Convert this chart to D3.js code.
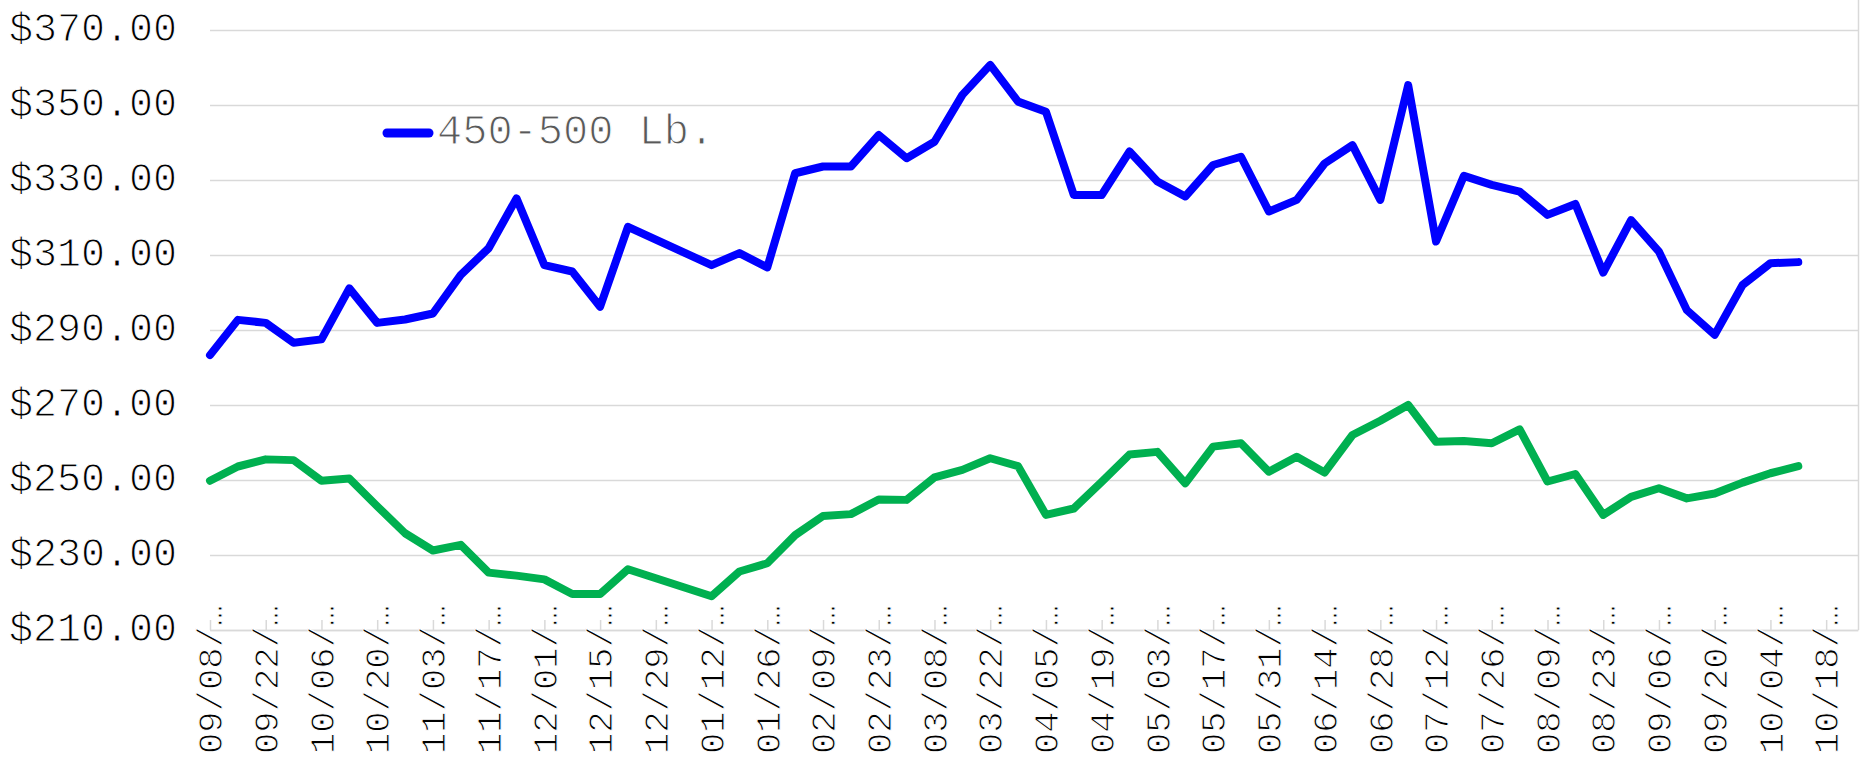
<!DOCTYPE html>
<html>
<head>
<meta charset="utf-8">
<script src="https://cdn.jsdelivr.net/npm/d3@7"></script>
<style>
  html, body { margin: 0; padding: 0; background: #ffffff; }
  svg { display: block; }
</style>
</head>
<body>
<svg id="chart" width="1860" height="768"></svg>
<script>
// ---------------- DATA ----------------
const weekDates = [
  "2019-09-08","2019-09-15","2019-09-22","2019-09-29","2019-10-06","2019-10-13","2019-10-20","2019-10-27",
  "2019-11-03","2019-11-10","2019-11-17","2019-11-24","2019-12-01","2019-12-08","2019-12-15","2019-12-22",
  "2020-01-12","2020-01-19","2020-01-26","2020-02-02","2020-02-09","2020-02-16","2020-02-23","2020-03-01",
  "2020-03-08","2020-03-15","2020-03-22","2020-03-29","2020-04-05","2020-04-12","2020-04-19","2020-04-26",
  "2020-05-03","2020-05-10","2020-05-17","2020-05-24","2020-05-31","2020-06-07","2020-06-14","2020-06-21",
  "2020-06-28","2020-07-05","2020-07-12","2020-07-19","2020-07-26","2020-08-02","2020-08-09","2020-08-16",
  "2020-08-23","2020-08-30","2020-09-06","2020-09-13","2020-09-20","2020-09-27","2020-10-04","2020-10-11"
];

const blueValues = [
  283.3, 292.7, 291.9, 286.6, 287.5, 301.1, 291.9, 292.8,
  294.4, 304.7, 311.8, 325.1, 307.3, 305.6, 296.2, 317.5,
  307.3, 310.5, 306.7, 331.8, 333.6, 333.6, 342.0, 335.8,
  340.2, 352.7, 360.7, 350.9, 348.2, 326.0, 326.0, 337.6,
  329.6, 325.6, 334.0, 336.2, 321.6, 324.7, 334.4, 339.3,
  324.7, 355.3, 313.6, 331.1, 328.7, 326.9, 320.7, 323.6,
  305.3, 319.3, 310.9, 295.3, 288.7, 302.0, 307.8, 308.1
];

const greenValues = [
  249.8, 253.6, 255.5, 255.3, 249.8, 250.4, 243.0, 235.8,
  231.2, 232.7, 225.3, 224.5, 223.5, 219.6, 219.6, 226.2,
  219.0, 225.6, 227.8, 235.3, 240.4, 240.9, 244.8, 244.7,
  250.7, 252.7, 255.8, 253.7, 240.7, 242.4, 249.5, 256.8,
  257.5, 249.1, 258.9, 259.8, 252.2, 256.2, 252.0, 262.0,
  265.8, 270.0, 260.2, 260.4, 259.8, 263.5, 249.6, 251.6,
  240.7, 245.5, 247.8, 245.1, 246.4, 249.3, 251.8, 253.7
];

const tickDates = [
  "2019-09-08","2019-09-22","2019-10-06","2019-10-20","2019-11-03","2019-11-17","2019-12-01","2019-12-15",
  "2019-12-29","2020-01-12","2020-01-26","2020-02-09","2020-02-23","2020-03-08","2020-03-22","2020-04-05",
  "2020-04-19","2020-05-03","2020-05-17","2020-05-31","2020-06-14","2020-06-28","2020-07-12","2020-07-26",
  "2020-08-09","2020-08-23","2020-09-06","2020-09-20","2020-10-04","2020-10-18"
];
const tickLabels = [
  "09/08/…","09/22/…","10/06/…","10/20/…","11/03/…","11/17/…","12/01/…","12/15/…",
  "12/29/…","01/12/…","01/26/…","02/09/…","02/23/…","03/08/…","03/22/…","04/05/…",
  "04/19/…","05/03/…","05/17/…","05/31/…","06/14/…","06/28/…","07/12/…","07/26/…",
  "08/09/…","08/23/…","09/06/…","09/20/…","10/04/…","10/18/…"
];

const yTickValues = [210, 230, 250, 270, 290, 310, 330, 350, 370];
const yTickLabels = ["$210.00","$230.00","$250.00","$270.00","$290.00","$310.00","$330.00","$350.00","$370.00"];

const legendLabel = "450-500 Lb.";
const xDomain = ["2019-09-08", "2020-10-26"];

// ---------------- DRAW ----------------
const FONT = "'Liberation Mono', 'Courier New', monospace";
const parse = d3.utcParse("%Y-%m-%d");
const svg = d3.select("#chart");

const plotLeft = 210, plotRight = 1858, plotTop = 30, plotBottom = 630;

const x = d3.scaleUtc().domain(xDomain.map(parse)).range([plotLeft, plotRight]);
const y = d3.scaleLinear().domain([210, 370]).range([plotBottom, plotTop]);

// thin-looking text: a thin white outline painted over the fill
function thinText(sel, w) {
  sel.attr("stroke", "#ffffff").attr("stroke-width", w).attr("paint-order", "fill");
}

// Y axis + gridlines
const yAxis = d3.axisLeft(y)
  .tickValues(yTickValues)
  .tickFormat((d, i) => yTickLabels[i])
  .tickSize(-(plotRight - plotLeft))
  .tickPadding(33);

const gy = svg.append("g")
  .attr("transform", `translate(${plotLeft},0)`)
  .call(yAxis)
  .attr("font-family", null).attr("font-size", null);
gy.select(".domain").remove();
gy.selectAll(".tick line").attr("stroke", "#d9d9d9").attr("stroke-width", 1.5);
gy.selectAll(".tick text")
  .attr("font-family", FONT)
  .attr("font-size", 40)
  .attr("fill", "#000000")
  .attr("dy", "0.27em")
  .call(thinText, 1.1);

// Right border line
svg.append("line")
  .attr("x1", plotRight + 0.5).attr("x2", plotRight + 0.5)
  .attr("y1", 0).attr("y2", plotBottom)
  .attr("stroke", "#d9d9d9").attr("stroke-width", 1.5);

// X axis
const xAxis = d3.axisBottom(x)
  .tickValues(tickDates.map(parse))
  .tickFormat((d, i) => tickLabels[i])
  .tickSizeInner(-10)
  .tickSizeOuter(0);

const gx = svg.append("g")
  .attr("transform", `translate(0,${plotBottom})`)
  .call(xAxis)
  .attr("font-family", null).attr("font-size", null);
gx.select(".domain").attr("stroke", "#d9d9d9").attr("stroke-width", 1.5);
gx.selectAll(".tick line").attr("stroke", "#d9d9d9").attr("stroke-width", 1.5);
gx.selectAll(".tick text")
  .attr("font-family", FONT)
  .attr("font-size", 35.5)
  .attr("fill", "#000000")
  .attr("transform", "rotate(-90)")
  .attr("x", -124)
  .attr("y", 0)
  .attr("dy", "0.33em")
  .attr("text-anchor", "start")
  .call(thinText, 1.0);

// Series
const blueData = weekDates.map((d, i) => ({ date: parse(d), v: blueValues[i] }));
const greenData = weekDates.map((d, i) => ({ date: parse(d), v: greenValues[i] }));

const line = d3.line().x(d => x(d.date)).y(d => y(d.v));

svg.append("path")
  .datum(greenData)
  .attr("d", line)
  .attr("fill", "none")
  .attr("stroke", "#00B050")
  .attr("stroke-width", 8)
  .attr("stroke-linejoin", "round")
  .attr("stroke-linecap", "round");

svg.append("path")
  .datum(blueData)
  .attr("d", line)
  .attr("fill", "none")
  .attr("stroke", "#0000FF")
  .attr("stroke-width", 8)
  .attr("stroke-linejoin", "round")
  .attr("stroke-linecap", "round");

// Legend
const lg = svg.append("g").attr("transform", "translate(387,133)");
lg.append("line")
  .attr("x1", 0).attr("x2", 42).attr("y1", 0).attr("y2", 0)
  .attr("stroke", "#0000FF").attr("stroke-width", 9).attr("stroke-linecap", "round");
lg.append("text")
  .attr("x", 50).attr("y", 11)
  .attr("font-family", FONT)
  .attr("font-size", 42)
  .attr("fill", "#595959")
  .text(legendLabel)
  .call(thinText, 1.1);
</script>
</body>
</html>
